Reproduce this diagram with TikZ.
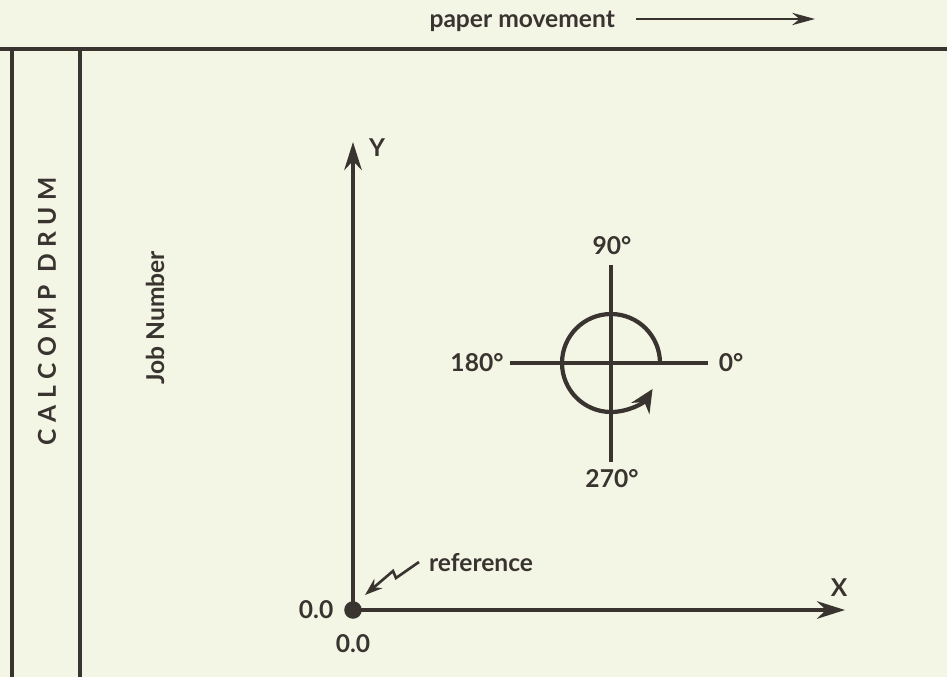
\documentclass[tikz,border=0pt]{standalone}
\usepackage{fontspec}
\setmainfont{Lato}
\newfontfamily\drumfont[LetterSpace=27]{Lato}
\usepackage{tikz}
\usetikzlibrary{positioning, arrows.meta, calc}
\definecolor{ink}{HTML}{3A3431}
\definecolor{paperbg}{HTML}{F3F6E5}
\tikzset{
  frame line/.style={
    draw=ink,
    line width=2pt
  },
  axis arrow/.style={
    -{Stealth[length=16pt, width=10pt]},
    draw=ink,
    line width=2.2pt
  },
  move arrow/.style={
    -{Stealth[length=13pt, width=7pt]},
    draw=ink,
    line width=1.5pt
  },
  turn arrow/.style={
    -{Stealth[length=13pt, width=12pt]},
    draw=ink,
    line width=2.4pt
  },
  label text/.style={
    text=ink,
    font=\fontsize{14}{16}\selectfont\bfseries,
    inner sep=1pt
  },
  origin dot/.style={
    circle, fill=ink,
    minimum size=10pt, inner sep=0pt
  }
}

\begin{document}
\begin{tikzpicture}[x=0.02cm, y=0.02cm]
  \fill[paperbg] (0,0) rectangle (947,677);
  \useasboundingbox (0,0) rectangle (947,677);

  % paper movement
  \node[label text, anchor=east] (move) at (617,656) {paper movement};
  \coordinate (move start) at (636,658);
  \coordinate (move end) at (815,658);
  \draw[move arrow] (move start) -- (move end);

  % drum frame
  \coordinate (top left) at (0,628);
  \coordinate (top right) at (947,628);
  \coordinate (rail a top) at (12,628);
  \coordinate (rail a bot) at (12,0);
  \coordinate (rail b top) at (80,628);
  \coordinate (rail b bot) at (80,0);
  \draw[frame line, line width=2.3pt] (top left) -- (top right);
  \draw[frame line, line width=1.8pt] (rail a top) -- (rail a bot);
  \draw[frame line, line width=1.8pt] (rail b top) -- (rail b bot);

  \node[label text, rotate=90, font=\drumfont\fontsize{14}{16}\selectfont\bfseries]
    (drum) at (47,366) {CALCOMP DRUM};
  \node[label text, rotate=90] (job) at (155,359) {Job Number};

  % axes
  \node[origin dot] (origin) at (353,67) {};
  \coordinate (y tip) at (353,535);
  \coordinate (x tip) at (845,67);
  \draw[axis arrow] (origin.center) -- (y tip);
  \draw[axis arrow] (origin.center) -- (x tip);
  \node[label text] (y lab) at (377,529) {Y};
  \node[label text] (x lab) at (839,89) {X};
  \node[label text, left=10pt of origin.center] (x zero) {0.0};
  \node[label text, below=13pt of origin.center] (y zero) {0.0};

  % reference pointer
  \node[label text, anchor=west] (ref) at (427,114) {reference};
  \coordinate (ref a) at (419,115);
  \coordinate (ref b) at (396,99);
  \coordinate (ref c) at (393,106);
  \coordinate (ref d) at (365,82);
  \draw[draw=ink, line width=1.5pt, -{Stealth[length=10pt, width=7pt]}]
    (ref a) -- (ref b) -- (ref c) -- (ref d);

  % angle cross
  \coordinate (ctr) at (611,314);
  \node[label text] (deg0) at (731,314) {0°};
  \node[label text] (deg90) at (612,431) {90°};
  \node[label text] (deg180) at (477,314) {180°};
  \node[label text] (deg270) at (612,198) {270°};
  \draw[frame line, line width=2.2pt] ($(ctr)+(-101,0)$) -- ($(ctr)+(97,0)$);
  \draw[frame line, line width=2.2pt] ($(ctr)+(0,-99)$) -- ($(ctr)+(0,98)$);
  \draw[turn arrow] ($(ctr)+(49,0)$) arc[start angle=0, end angle=328, radius=49];
\end{tikzpicture}
\end{document}
